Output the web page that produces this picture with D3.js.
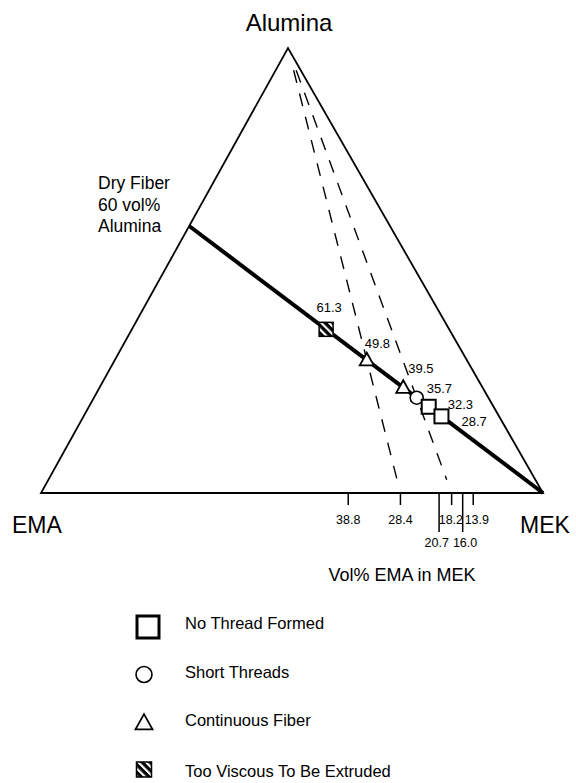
<!DOCTYPE html>
<html>
<head>
<meta charset="utf-8">
<script src="https://cdn.jsdelivr.net/npm/d3@7/dist/d3.min.js"></script>
<style>
  html, body { margin: 0; padding: 0; background: #fff; }
  svg { display: block; }
  text { font-family: "Liberation Sans", Arial, Helvetica, sans-serif; fill: #000; }
</style>
</head>
<body>
<svg id="chart" width="576" height="783"></svg>
<script>
// Dry fiber composition (vol%): 60 alumina, 40 EMA
const dryFiberAlumina = 60;

// Mixtures of dry fiber with MEK: vol% dry fiber, resulting vol% EMA in the liquid, outcome
const fiberPct   = [61.3, 49.8, 39.5, 35.7, 32.3, 28.7];
const emaInMek   = [38.8, 28.4, 20.7, 18.2, 16.0, 13.9];
const outcomes   = ["viscous", "continuous", "continuous", "short", "none", "none"];

// Bottom-axis ticks drawn with the long stem / second label row
const longTicks  = [20.7, 16.0];
// Dashed region boundaries (vol% EMA in MEK)
const boundaries = [28.4, 18.2];

// Legend entries
const legendKeys   = ["none", "short", "continuous", "viscous"];
const legendLabels = ["No Thread Formed", "Short Threads", "Continuous Fiber", "Too Viscous To Be Extruded"];

// ---- layout ----
const apex = [288, 48], left = [41, 493], right = [543, 493];
const labelOffsets = [
  { dx: 3,   dy: -17, anchor: "middle" },
  { dx: -2,  dy: -12, anchor: "start" },
  { dx: 5,   dy: -15, anchor: "start" },
  { dx: 10,  dy: -5,  anchor: "start" },
  { dx: 19,  dy: 2,   anchor: "start" },
  { dx: 20,  dy: 10,  anchor: "start" }
];
const tickFont = 12.5;

const svg = d3.select("#chart");

// % EMA in the liquid along the base, % alumina up the height
const x = d3.scaleLinear().domain([100, 0]).range([left[0], right[0]]);
const y = d3.scaleLinear().domain([0, 100]).range([left[1], apex[1]]);

// Ternary position from alumina % and EMA fraction of the liquid (%)
function ternary(alumina, emaLiquid) {
  const bx = x(emaLiquid), t = alumina / 100;
  return [bx + t * (apex[0] - bx), y(alumina)];
}

// hatch pattern for "too viscous"
const defs = svg.append("defs");
const pat = defs.append("pattern")
  .attr("id", "hatch").attr("patternUnits", "userSpaceOnUse")
  .attr("width", 5.5).attr("height", 5.5)
  .attr("patternTransform", "rotate(-45)");
pat.append("rect").attr("width", 5.5).attr("height", 5.5).attr("fill", "#000");
pat.append("rect").attr("x", 0).attr("width", 2.2).attr("height", 5.5).attr("fill", "#fff");

// triangle outline
svg.append("path")
  .attr("d", d3.line()([ternary(0, 100), ternary(0, 0), ternary(100, 0)]) + "Z")
  .attr("fill", "none").attr("stroke", "#000").attr("stroke-width", 1.8)
  .attr("stroke-linejoin", "miter");

// dashed boundaries from the alumina apex
boundaries.forEach(v => {
  svg.append("path")
    .attr("d", d3.line()([ternary(95, v), ternary(3, v)]))
    .attr("fill", "none").attr("stroke", "#000").attr("stroke-width", 1.4)
    .attr("stroke-dasharray", "13,11");
});

// dilution line: dry fiber -> MEK
svg.append("path")
  .attr("d", d3.line()([ternary(dryFiberAlumina, 100), ternary(0, 0)]))
  .attr("fill", "none").attr("stroke", "#000").attr("stroke-width", 4);

// bottom axis ticks
const base = left[1];
const stems = longTicks.map(x);
emaInMek.forEach(v => {
  const isLong = longTicks.includes(v);
  svg.append("line")
    .attr("x1", x(v)).attr("x2", x(v)).attr("y1", base).attr("y2", base + (isLong ? 39 : 12))
    .attr("stroke", "#000").attr("stroke-width", 1.5);
});

// tick labels: short ticks on the first row, long stems on the second
function measure(s) {
  const t = svg.append("text").attr("font-size", tickFont).text(s);
  const w = t.node().getComputedTextLength();
  t.remove();
  return w;
}
const pad = 2;
const row2 = emaInMek.filter(v => longTicks.includes(v))
  .map(v => ({ v, cx: x(v), w: measure(v.toFixed(1)) }))
  .sort((a, b) => a.cx - b.cx);
for (let i = 1; i < row2.length; i++) {
  const a = row2[i - 1], b = row2[i];
  const need = a.w / 2 + b.w / 2 + 2 * pad - (b.cx - a.cx);
  if (need > 0) { a.cx -= need / 2; b.cx += need / 2; }
}
const row1 = emaInMek.filter(v => !longTicks.includes(v)).map(v => {
  const tx = x(v), w = measure(v.toFixed(1));
  const lo = d3.max(stems.filter(s => s < tx));
  const hi = d3.min(stems.filter(s => s > tx));
  const minC = lo === undefined ? -Infinity : lo + pad + w / 2;
  const maxC = hi === undefined ? Infinity : hi - pad - w / 2;
  let cx = tx;
  if (minC <= maxC) cx = Math.min(Math.max(tx, minC), maxC);
  else cx = (lo + hi) / 2;
  return { v, cx, w };
});
row1.forEach(d => svg.append("text").attr("x", d.cx).attr("y", base + 31)
  .attr("text-anchor", "middle").attr("font-size", tickFont).text(d.v.toFixed(1)));
row2.forEach(d => svg.append("text").attr("x", d.cx).attr("y", base + 54)
  .attr("text-anchor", "middle").attr("font-size", tickFont).text(d.v.toFixed(1)));

// marker drawing
function drawMarker(g, kind, size) {
  if (kind === "none") {
    g.append("rect").attr("x", -size / 2).attr("y", -size / 2)
      .attr("width", size).attr("height", size)
      .attr("fill", "#fff").attr("stroke", "#000").attr("stroke-width", size > 16 ? 3 : 2);
  } else if (kind === "short") {
    g.append("circle").attr("r", size / 2)
      .attr("fill", "#fff").attr("stroke", "#000").attr("stroke-width", 1.6);
  } else if (kind === "continuous") {
    const h = size * 0.9, w = size;
    g.append("path")
      .attr("d", `M0,${-h * 0.58}L${w / 2},${h * 0.42}L${-w / 2},${h * 0.42}Z`)
      .attr("fill", "#fff").attr("stroke", "#000").attr("stroke-width", 1.8)
      .attr("stroke-linejoin", "miter");
  } else if (kind === "viscous") {
    g.append("rect").attr("x", -size / 2).attr("y", -size / 2)
      .attr("width", size).attr("height", size)
      .attr("fill", "url(#hatch)").attr("stroke", "#000").attr("stroke-width", 1.5);
  }
}

// data markers and value labels
fiberPct.forEach((f, i) => {
  const phi = f / 100;
  const alumina = dryFiberAlumina * phi;
  const emaLiquid = 100 * (0.4 * phi) / (0.4 * phi + (1 - phi));
  const [px, py] = ternary(alumina, emaLiquid);
  const g = svg.append("g").attr("transform", `translate(${px},${py})`);
  const kind = outcomes[i];
  drawMarker(g, kind, kind === "short" ? 13 : 14);
  const o = labelOffsets[i];
  svg.append("text")
    .attr("x", px + o.dx).attr("y", py + o.dy)
    .attr("text-anchor", o.anchor).attr("font-size", 13)
    .text(f.toFixed(1));
});

// vertex labels
svg.append("text").attr("x", 289).attr("y", 31).attr("text-anchor", "middle")
  .attr("font-size", 24).text("Alumina");
svg.append("text").attr("x", 12).attr("y", 533).attr("font-size", 23).text("EMA");
svg.append("text").attr("x", 520).attr("y", 533).attr("font-size", 23).text("MEK");

// dry fiber annotation
const dry = svg.append("text").attr("font-size", 17.5);
["Dry Fiber", "60 vol%", "Alumina"].forEach((s, i) => {
  dry.append("tspan").attr("x", 98).attr("y", 189 + i * 21.5).text(s);
});

// axis title
svg.append("text").attr("x", 402).attr("y", 581).attr("text-anchor", "middle")
  .attr("font-size", 18).text("Vol% EMA in MEK");

// legend
const legendRows = [627, 674.5, 723, 769.5];
const legendSizes = [22, 16, 17, 15];
legendKeys.forEach((k, i) => {
  const g = svg.append("g").attr("transform", `translate(${k === "none" ? 148 : 144},${legendRows[i]})`);
  drawMarker(g, k, legendSizes[i]);
  svg.append("text").attr("x", 185).attr("y", legendRows[i] + 2 + (i === 3 ? 4 : 0) + (i === 0 ? 0 : 1))
    .attr("font-size", 16.5).text(legendLabels[i]);
});
</script>
</body>
</html>
